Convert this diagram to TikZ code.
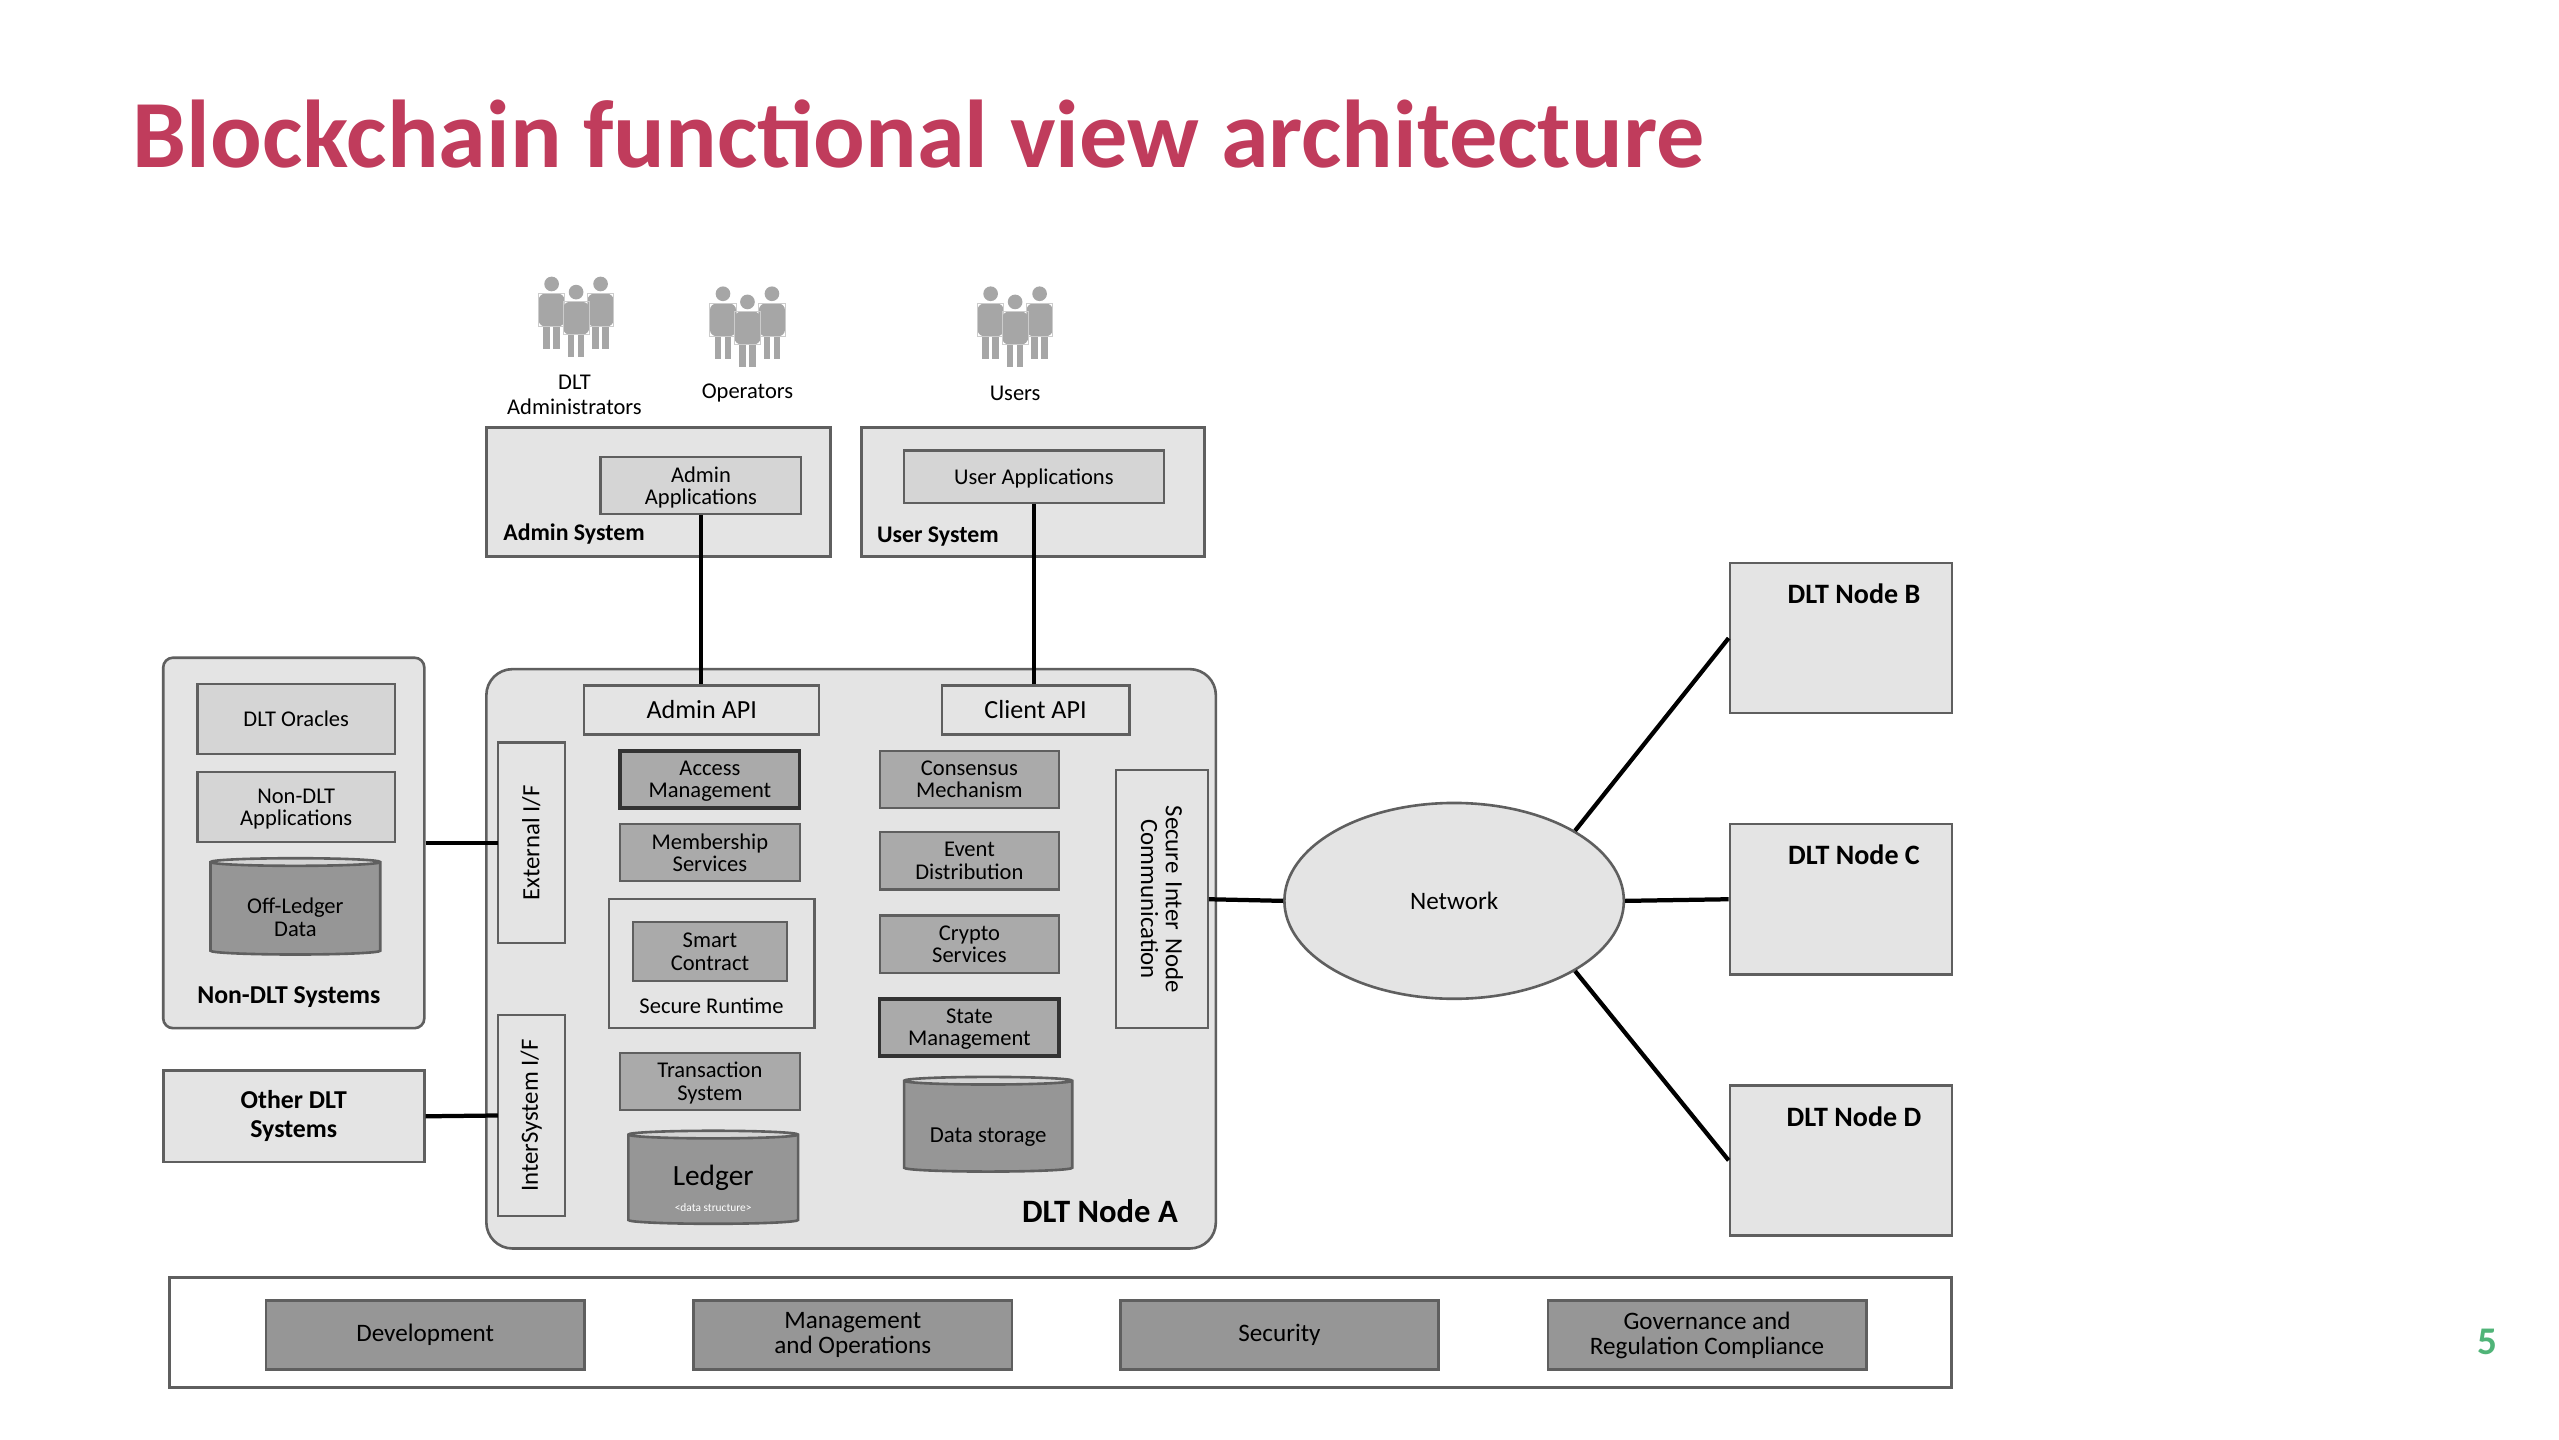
\documentclass[tikz,border=0pt]{standalone}
\usepackage{fontspec}
\setmainfont{Carlito}
\usetikzlibrary{shapes.geometric}
\definecolor{titlec}{RGB}{192,60,92}
\definecolor{numc}{RGB}{80,180,120}
\definecolor{lite}{RGB}{228,228,228}
\definecolor{mid}{RGB}{170,170,170}
\definecolor{dark}{RGB}{150,150,150}
\definecolor{edge}{RGB}{95,95,95}
\newcommand{\sz}[1]{\fontsize{#1}{#1}\selectfont}
\newcommand{\peopleicon}[2]{%
  \begin{scope}[shift={(#1,#2)}]
  \foreach \dx/\dy in {-15/0,15/0,0/5}{
    \fill[gray!70] (\dx,\dy-18) circle (4.5);
    \fill[gray!70,rounded corners=2] (\dx-8,\dy-12) rectangle (\dx+8,\dy+8);
    \fill[gray!70] (\dx-5,\dy+7) rectangle (\dx-1,\dy+22);
    \fill[gray!70] (\dx+1,\dy+7) rectangle (\dx+5,\dy+22);
    \draw[gray!40,line width=0.3pt] (\dx-8,\dy-12) rectangle (\dx+8,\dy+8);
  }
  \end{scope}}
\tikzset{
  x=0.5pt,y=-0.5pt,
  sys/.style={draw=edge,fill=lite,line width=0.8pt,inner sep=0pt},
  lbox/.style={draw=edge,fill=lite,line width=0.7pt,align=center,inner sep=1pt,font=\sz{7}},
  mbox/.style={draw=edge,fill=mid,line width=0.7pt,align=center,inner sep=1pt,font=\sz{6.9},text depth=0pt},
  dbox/.style={mbox,draw=black!80,line width=1.1pt},
  gbox/.style={draw=edge,fill=dark,line width=0.8pt,align=center,inner sep=1pt,font=\sz{7.7}},
  cyl/.style={cylinder,shape border rotate=90,aspect=0.35,draw=edge,line width=0.8pt,
     cylinder uses custom fill,cylinder body fill=dark,cylinder end fill=lite!85!gray,align=center,font=\sz{7}},
  conn/.style={line width=1.3pt,black},
  bl/.style={font=\bfseries\sz{7.3},inner sep=0pt},
}
\begin{document}
\begin{tikzpicture}
\useasboundingbox[fill=white] (0,0) rectangle (1568,882);
\node[text=titlec,font=\bfseries\sz{29.5},anchor=west,inner sep=0pt] (title) at (81,82) {Blockchain functional view architecture};
\node[text=numc,font=\bfseries\sz{12},inner sep=0pt] (num) at (1524,822) {5};

% people
\peopleicon{353}{192}
\peopleicon{458}{198}
\peopleicon{622}{198}
\node[align=center,font=\sz{6.9},inner sep=0pt] (adml) at (352,242) {DLT\\[1pt]Administrators};
\node[font=\sz{6.9},inner sep=0pt] (opl) at (458,241) {Operators};
\node[font=\sz{6.9},inner sep=0pt] (usl) at (622,241) {Users};

% systems
\node[sys,minimum width=105.5pt,minimum height=39.5pt] (adminsys) at (403.5,301.5) {};
\node[mbox,fill=lite!85!gray,minimum width=61.5pt,minimum height=17.5pt] (adminapp) at (429.5,297.5) {Admin\\Applications};
\node[bl,anchor=west] (adminsysl) at (308,327) {Admin System};
\node[sys,minimum width=105pt,minimum height=39.5pt] (usersys) at (633,301.5) {};
\node[mbox,fill=lite!85!gray,minimum width=79.5pt,minimum height=16pt] (userapp) at (633.5,292) {User Applications};
\node[bl,anchor=west] (usersysl) at (537,329) {User System};

% node A
\node[sys,rounded corners=8pt,minimum width=223.5pt,minimum height=177.5pt] (nodeA) at (521.5,587.5) {};
\node[lbox,font=\sz{8},minimum width=72pt,minimum height=15pt] (adminapi) at (430,435) {Admin API};
\node[lbox,font=\sz{8},minimum width=57.5pt,minimum height=15pt] (clientapi) at (634.5,435) {Client API};
\node[lbox,font=\sz{7.6},rotate=90,minimum width=61.5pt,minimum height=20.5pt] (ext) at (325.5,516.5) {External I/F};
\node[lbox,font=\sz{7.6},rotate=90,minimum width=61.5pt,minimum height=20.5pt] (inter) at (325.5,683.5) {InterSystem I/F};
\node[dbox,minimum width=55pt,minimum height=17.5pt] (access) at (435,477.5) {Access\\Management};
\node[mbox,minimum width=55pt,minimum height=17.5pt] (member) at (435,522.5) {Membership\\Services};
\node[lbox,minimum width=63pt,minimum height=39.5pt] (runtime) at (436,590.5) {};
\node[mbox,minimum width=47pt,minimum height=18pt] (smart) at (435,583) {Smart\\Contract};
\node[font=\sz{6.9},inner sep=0pt] (runtimel) at (436,616) {Secure Runtime};
\node[mbox,minimum width=55pt,minimum height=17.5pt] (trans) at (435,662.5) {Transaction\\System};
\node[cyl,minimum width=52pt,minimum height=28.5pt] (ledger) at (437,723.5) {};
\node[font=\sz{9},inner sep=0pt] (ledgerl) at (437,722) {Ledger};
\node[font=\sz{3.5},text=white,inner sep=0pt] (ledgers) at (437,740) {<data structure>};
\node[mbox,minimum width=55pt,minimum height=17.5pt] (cons) at (594,477.5) {Consensus\\Mechanism};
\node[mbox,minimum width=55pt,minimum height=17.5pt] (event) at (594,527.5) {Event\\Distribution};
\node[mbox,minimum width=55pt,minimum height=17.5pt] (crypto) at (594,578.5) {Crypto\\Services};
\node[dbox,minimum width=55pt,minimum height=17.5pt] (state) at (594,629.5) {State\\Management};
\node[cyl,minimum width=51.5pt,minimum height=29pt] (datast) at (605.5,691) {};
\node[font=\sz{7},inner sep=0pt] (datastl) at (605.5,697) {Data storage};
\node[lbox,font=\sz{7.6},rotate=-90,minimum width=79pt,minimum height=28pt,text width=70pt] (secure) at (712,551) {\centering Secure Inter Node Communication};
\node[font=\bfseries\sz{10},inner sep=0pt] (nodeAl) at (674,742) {DLT Node A};

% non-DLT
\node[sys,rounded corners=3pt,minimum width=80pt,minimum height=113.5pt] (nondlt) at (180,516.5) {};
\node[mbox,fill=lite!85!gray,minimum width=60.5pt,minimum height=21.5pt] (oracles) at (181.5,440.5) {DLT Oracles};
\node[mbox,fill=lite!85!gray,minimum width=60.5pt,minimum height=21.5pt] (ndapp) at (181.5,494.5) {Non-DLT\\Applications};
\node[cyl,minimum width=52pt,minimum height=29.5pt,font=\sz{6.8}] (offl) at (181,557.5) {};
\node[font=\sz{6.9},align=center,inner sep=0pt] (offll) at (181,562) {Off-Ledger\\Data};
\node[bl,font=\bfseries\sz{7.9}] (nondltl) at (177,611) {Non-DLT Systems};
\node[sys,align=center,font=\bfseries\sz{7.9},minimum width=80pt,minimum height=28pt] (otherdlt) at (180,684) {Other DLT\\[1pt]Systems};

% network and nodes
\node[ellipse,draw=edge,fill=lite,line width=0.8pt,minimum width=104pt,minimum height=60pt,font=\sz{7.7}] (net) at (891,552) {Network};
\foreach \n/\y in {B/391,C/551,D/711}{
  \node[sys,minimum width=68pt,minimum height=46pt] (node\n) at (1128,\y) {};
  \node[bl,font=\bfseries\sz{8.6}] (node\n l) at (1136,\y-27) {DLT Node \n};
}

% bottom bar
\node[draw=edge,fill=white,line width=0.9pt,minimum width=546pt,minimum height=33.5pt] (bottom) at (650,816.5) {};
\node[gbox,minimum width=97.5pt,minimum height=21pt] (dev) at (260.5,818) {Development};
\node[gbox,minimum width=97.5pt,minimum height=21pt] (mgmt) at (522.5,818) {Management\\and Operations};
\node[gbox,minimum width=97.5pt,minimum height=21pt] (sec) at (784,818) {Security};
\node[gbox,minimum width=97.5pt,minimum height=21pt] (gov) at (1046,818) {Governance and\\Regulation Compliance};

% connectors
\coordinate (extL) at (305,516.5);
\coordinate (interL) at (305,683.5);
\draw[conn] (adminapp.south) -- (adminapp.south |- adminapi.north);
\draw[conn] (userapp.south) -- (userapp.south |- clientapi.north);
\draw[conn] (nondlt.east) -- (extL);
\draw[conn] (otherdlt.east) -- (interL);
\draw[conn] (secure.north) -- (net.west);
\draw[conn] (net.north east) -- (nodeB.west);
\draw[conn] (net.east) -- (nodeC.west);
\draw[conn] (net.south east) -- (nodeD.west);
\end{tikzpicture}
\end{document}
